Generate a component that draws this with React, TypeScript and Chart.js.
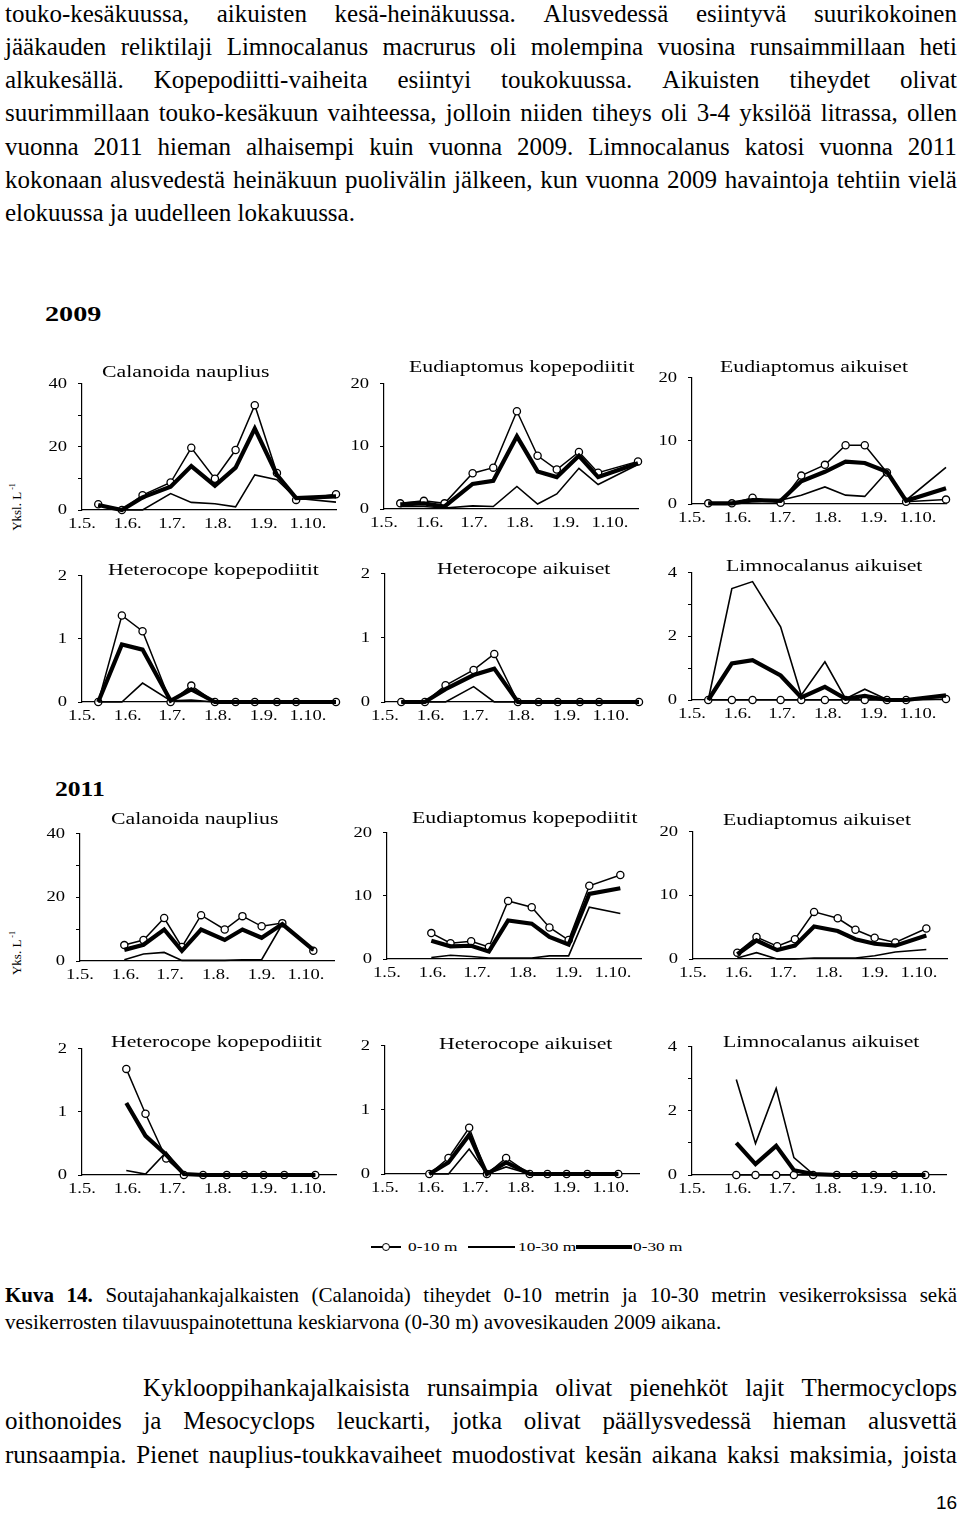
import React, { useEffect, useRef } from "react";
import { Chart, registerables } from "chart.js";

Chart.register(...registerables);

// ---------------- DATA ----------------
const monthTickDays = [0, 31, 61, 92, 123, 153];
const monthTickLabels = ["1.5.", "1.6.", "1.7.", "1.8.", "1.9.", "1.10."];
const seriesNames = ["0-10 m", "10-30 m", "0-30 m"];

// sampling days counted from 1 May
const sampleDays2009 = [11, 27, 41, 60, 74, 90, 104, 117, 132, 145, 172];
const sampleDays2011 = [30, 43, 57, 69, 82, 98, 110, 123, 137, 158];

// 2009
const calNaup2009_0to10 = [1.8, 0, 4.7, 8.7, 19.7, 9.9, 19, 33.2, 11.7, 3.2, 5];
const calNaup2009_10to30 = [1.5, 0, 0, 5.2, 2.4, 2, 1, 11.1, 9.6, 3.7, 2.5];
const calNaup2009_0to30 = [1.6, 0, 4, 7.4, 13.9, 7.7, 13.4, 25.8, 11.1, 3.8, 4.3];

const eudKop2009_0to10 = [0.9, 1.3, 0.9, 5.7, 6.6, 15.6, 8.5, 6.3, 9.1, 5.8, 7.6];
const eudKop2009_10to30 = [0.4, 0.4, 0.15, 0.5, 0.4, 3.6, 0.8, 2.4, 6.5, 3.9, 7.1];
const eudKop2009_0to30 = [0.75, 0.9, 0.4, 4, 4.5, 11.6, 6, 5.1, 8.5, 5.1, 7.3];

const eudAik2009_0to10 = [0.1, 0.1, 1, 0.2, 4.5, 6.2, 9.3, 9.3, 5, 0.35, 0.7];
const eudAik2009_10to30 = [0.1, 0.1, 0.35, 0.6, 1.4, 2.7, 1.4, 1.2, 5.1, 0.6, 5.8];
const eudAik2009_0to30 = [0.1, 0.1, 0.6, 0.5, 3.6, 5.1, 6.7, 6.5, 5.1, 0.5, 2.5];

const hetKop2009_0to10 = [0, 1.37, 1.12, 0, 0.26, 0, 0, 0, 0, 0, 0];
const hetKop2009_10to30 = [0, 0, 0.3, 0.02, 0.03, 0, 0, 0, 0, 0, 0];
const hetKop2009_0to30 = [0, 0.91, 0.83, 0.02, 0.2, 0, 0, 0, 0, 0, 0];

const hetAik2009_0to10 = [0, 0, 0.26, 0.5, 0.75, 0, 0, 0, 0, 0, 0];
const hetAik2009_10to30 = [0, 0, 0, 0.24, 0, 0, 0, 0, 0, 0, 0];
const hetAik2009_0to30 = [0, 0, 0.2, 0.42, 0.52, 0, 0, 0, 0, 0, 0];

const limAik2009_0to10 = [0, 0, 0, 0, 0, 0, 0, 0, 0, 0, 0.03];
const limAik2009_10to30 = [0, 3.5, 3.72, 2.3, 0.15, 1.2, 0.04, 0.34, 0.02, 0, 0.1];
const limAik2009_0to30 = [0, 1.15, 1.25, 0.77, 0.08, 0.41, 0.04, 0.13, 0, 0, 0.15];

// 2011
const calNaup2011_0to10 = [5, 6.6, 13.5, 4.4, 14.4, 9.9, 14.1, 10.9, 11.9, 3.2];
const calNaup2011_10to30 = [0.4, 2.2, 2.7, 0.2, 0.2, 0.2, 0.4, 0.4, 11.6, 3.2];
const calNaup2011_0to30 = [3.5, 5.1, 9.9, 3.2, 9.9, 6.6, 9.9, 7.3, 11.6, 3.5];

const eudKop2011_0to10 = [4.1, 2.5, 2.8, 1.9, 9.2, 8.2, 5, 3, 11.6, 13.3];
const eudKop2011_10to30 = [0.25, 0.6, 0.4, 0.15, 0.15, 0.15, 0.5, 0.5, 8.2, 7.2];
const eudKop2011_0to30 = [2.9, 2, 2.1, 1.2, 6.1, 5.6, 3.5, 2.3, 10.3, 11.2];

const eudAik2011_0to10 = [1, 3.45, 2, 3.1, 7.4, 6.4, 4.6, 3.35, 2.6, 4.8];
const eudAik2011_10to30 = [0.15, 1, 0, 0, 0.15, 0.15, 0.15, 0.5, 1.1, 1.5];
const eudAik2011_0to30 = [0.75, 2.9, 1.4, 2.1, 5.1, 4.4, 3.1, 2.4, 2.1, 3.7];

const hetKop2011_0to10 = [1.68, 0.97, 0.26, 0, 0, 0, 0, 0, 0, 0];
const hetKop2011_10to30 = [0.07, 0.015, 0.36, 0, 0, 0, 0, 0, 0, 0];
const hetKop2011_0to30 = [1.14, 0.62, 0.32, 0.015, 0, 0, 0, 0, 0, 0];

const hetAik2011_0to10 = [0, 0.25, 0.72, 0, 0.25, 0, 0, 0, 0, 0];
const hetAik2011_10to30 = [0, 0, 0.39, 0, 0.11, 0, 0, 0, 0, 0];
const hetAik2011_0to30 = [0, 0.18, 0.61, 0, 0.18, 0, 0, 0, 0, 0];

const limAik2011_0to10 = [0, 0, 0, 0, 0, 0, 0, 0, 0, 0];
const limAik2011_10to30 = [2.98, 0.98, 2.7, 0.54, 0.03, 0, 0, 0, 0, 0];
const limAik2011_0to30 = [1.0, 0.34, 0.91, 0.15, 0.03, 0, 0, 0, 0, 0];

// ---------------- TEXT ----------------
const topLines = [
  "touko-kesäkuussa, aikuisten kesä-heinäkuussa. Alusvedessä esiintyvä suurikokoinen",
  "jääkauden reliktilaji Limnocalanus macrurus oli molempina vuosina runsaimmillaan heti",
  "alkukesällä. Kopepodiitti-vaiheita esiintyi toukokuussa. Aikuisten tiheydet olivat",
  "suurimmillaan touko-kesäkuun vaihteessa, jolloin niiden tiheys oli 3-4 yksilöä litrassa, ollen",
  "vuonna 2011 hieman alhaisempi kuin vuonna 2009. Limnocalanus katosi vuonna 2011",
  "kokonaan alusvedestä heinäkuun puolivälin jälkeen, kun vuonna 2009 havaintoja tehtiin vielä",
  "elokuussa ja uudelleen lokakuussa.",
];
const captionLine1 = "Soutajahankajalkaisten (Calanoida) tiheydet 0-10 metrin ja 10-30 metrin vesikerroksissa sekä";
const captionLine2 = "vesikerrosten tilavuuspainotettuna keskiarvona (0-30 m) avovesikauden 2009 aikana.";
const bottomLines = [
  "Kyklooppihankajalkaisista runsaimpia olivat pienehköt lajit Thermocyclops",
  "oithonoides ja Mesocyclops leuckarti, jotka olivat päällysvedessä hieman alusvettä",
  "runsaampia. Pienet nauplius-toukkavaiheet muodostivat kesän aikana kaksi maksimia, joista",
];

// ---------------- LAYOUT ----------------
const SERIF = "'Liberation Serif', 'Times New Roman', serif";
const SANS = "'Liberation Sans', Arial, sans-serif";
const FIG_SX = 1.28; // horizontal stretch of figure lettering
const PL = 50;
const PT = 12;
const PR = 14;
const PB = 30;
const PLOT_W = 254;
const X_MAX = 172;

type Panel = {
  title: string;
  days: number[];
  c: number[];
  t: number[];
  k: number[];
  yMax: number;
  step: number;
  labelEvery: number;
  left: number;
  top: number;
  bottom: number;
  tx: number;
  tb: number;
};

const panels: Panel[] = [
  { title: "Calanoida nauplius", days: sampleDays2009, c: calNaup2009_0to10, t: calNaup2009_10to30, k: calNaup2009_0to30, yMax: 40, step: 10, labelEvery: 20, left: 82, top: 376, bottom: 510, tx: 102, tb: 378 },
  { title: "Eudiaptomus kopepodiitit", days: sampleDays2009, c: eudKop2009_0to10, t: eudKop2009_10to30, k: eudKop2009_0to30, yMax: 20, step: 10, labelEvery: 10, left: 384, top: 376, bottom: 509, tx: 409, tb: 373 },
  { title: "Eudiaptomus aikuiset", days: sampleDays2009, c: eudAik2009_0to10, t: eudAik2009_10to30, k: eudAik2009_0to30, yMax: 20, step: 10, labelEvery: 10, left: 692, top: 370, bottom: 504, tx: 720, tb: 373 },
  { title: "Heterocope kopepodiitit", days: sampleDays2009, c: hetKop2009_0to10, t: hetKop2009_10to30, k: hetKop2009_0to30, yMax: 2, step: 1, labelEvery: 1, left: 82, top: 568, bottom: 702, tx: 108, tb: 576 },
  { title: "Heterocope aikuiset", days: sampleDays2009, c: hetAik2009_0to10, t: hetAik2009_10to30, k: hetAik2009_0to30, yMax: 2, step: 1, labelEvery: 1, left: 385, top: 566, bottom: 702, tx: 437, tb: 575 },
  { title: "Limnocalanus aikuiset", days: sampleDays2009, c: limAik2009_0to10, t: limAik2009_10to30, k: limAik2009_0to30, yMax: 4, step: 1, labelEvery: 2, left: 692, top: 565, bottom: 700, tx: 726, tb: 572 },
  { title: "Calanoida nauplius", days: sampleDays2011, c: calNaup2011_0to10, t: calNaup2011_10to30, k: calNaup2011_0to30, yMax: 40, step: 10, labelEvery: 20, left: 80, top: 826, bottom: 961, tx: 111, tb: 825 },
  { title: "Eudiaptomus kopepodiitit", days: sampleDays2011, c: eudKop2011_0to10, t: eudKop2011_10to30, k: eudKop2011_0to30, yMax: 20, step: 10, labelEvery: 10, left: 387, top: 825, bottom: 959, tx: 412, tb: 824 },
  { title: "Eudiaptomus aikuiset", days: sampleDays2011, c: eudAik2011_0to10, t: eudAik2011_10to30, k: eudAik2011_0to30, yMax: 20, step: 10, labelEvery: 10, left: 693, top: 824, bottom: 959, tx: 723, tb: 826 },
  { title: "Heterocope kopepodiitit", days: sampleDays2011, c: hetKop2011_0to10, t: hetKop2011_10to30, k: hetKop2011_0to30, yMax: 2, step: 1, labelEvery: 1, left: 82, top: 1041, bottom: 1175, tx: 111, tb: 1048 },
  { title: "Heterocope aikuiset", days: sampleDays2011, c: hetAik2011_0to10, t: hetAik2011_10to30, k: hetAik2011_0to30, yMax: 2, step: 1, labelEvery: 1, left: 385, top: 1038, bottom: 1174, tx: 439, tb: 1050 },
  { title: "Limnocalanus aikuiset", days: sampleDays2011, c: limAik2011_0to10, t: limAik2011_10to30, k: limAik2011_0to30, yMax: 4, step: 1, labelEvery: 2, left: 692, top: 1039, bottom: 1175, tx: 723, tb: 1048 },
];

function stretchText(ctx: CanvasRenderingContext2D, sx: number) {
  const anyCtx = ctx as any;
  if (anyCtx.__stretched) return;
  anyCtx.__stretched = true;
  const orig = ctx.fillText.bind(ctx);
  anyCtx.fillText = (text: string, x: number, y: number, maxWidth?: number) => {
    ctx.save();
    ctx.translate(x, y);
    ctx.scale(sx, 1);
    if (maxWidth === undefined || maxWidth === null) orig(text, 0, 0);
    else orig(text, 0, 0, maxWidth / sx);
    ctx.restore();
  };
}

function MiniChart({ p }: { p: Panel }) {
  const ref = useRef<HTMLCanvasElement>(null);
  const W = PL + PLOT_W + PR;
  const H = PT + (p.bottom - p.top) + PB;
  useEffect(() => {
    const canvas = ref.current!;
    const ctx = canvas.getContext("2d")!;
    stretchText(ctx, FIG_SX);
    const pts = (vals: number[]) => p.days.map((d, i) => ({ x: d, y: vals[i] }));
    const tickFont = { family: SERIF, size: 14.5 };
    const chart = new Chart(canvas, {
      type: "line",
      data: {
        datasets: [
          {
            label: seriesNames[0],
            data: pts(p.c),
            borderColor: "#000",
            borderWidth: 1.5,
            pointRadius: 3.6,
            pointBorderWidth: 1.3,
            pointBackgroundColor: "#fff",
            pointBorderColor: "#000",
            tension: 0,
            clip: false,
            order: 3,
          },
          {
            label: seriesNames[1],
            data: pts(p.t),
            borderColor: "#000",
            borderWidth: 1.6,
            pointRadius: 0,
            tension: 0,
            clip: false,
            order: 2,
          },
          {
            label: seriesNames[2],
            data: pts(p.k),
            borderColor: "#000",
            borderWidth: 4.2,
            pointRadius: 0,
            tension: 0,
            clip: false,
            order: 1,
          },
        ],
      },
      options: {
        animation: false,
        responsive: false,
        events: [],
        layout: { padding: { left: 0, top: PT, right: PR, bottom: 0 } },
        plugins: {
          legend: { display: false },
          tooltip: { enabled: false },
          title: { display: false },
        },
        scales: {
          x: {
            type: "linear",
            min: 0,
            max: X_MAX,
            grid: { display: false, drawTicks: false },
            border: { display: true, color: "#000", width: 1.2 },
            afterBuildTicks: (s: any) => {
              s.ticks = monthTickDays.map((v) => ({ value: v }));
            },
            afterFit: (s: any) => {
              s.height = PB;
            },
            ticks: {
              autoSkip: false,
              maxRotation: 0,
              minRotation: 0,
              padding: 5,
              color: "#000",
              font: tickFont,
              callback: (v: any) => {
                const i = monthTickDays.indexOf(Number(v));
                return i >= 0 ? monthTickLabels[i] : "";
              },
            },
          },
          y: {
            min: 0,
            max: p.yMax,
            grid: { display: true, drawOnChartArea: false, drawTicks: true, tickLength: 4, color: "#000", lineWidth: 1 },
            border: { display: true, color: "#000", width: 1.2 },
            afterFit: (s: any) => {
              s.width = PL;
            },
            ticks: {
              stepSize: p.step,
              padding: 11,
              color: "#000",
              font: tickFont,
              callback: (v: any) => (Number(v) % p.labelEvery === 0 ? String(v) : ""),
            },
          },
        },
      } as any,
    });
    return () => chart.destroy();
  }, []);
  return (
    <canvas
      ref={ref}
      width={W}
      height={H}
      style={{ position: "absolute", left: p.left - PL, top: p.top - PT, width: W, height: H }}
    />
  );
}

type Word = { t: string; b?: boolean };

function TextLine({
  x,
  baseline,
  width,
  size,
  words,
  justify,
  family = SERIF,
}: {
  x: number;
  baseline: number;
  width: number;
  size: number;
  words: Word[];
  justify: boolean;
  family?: string;
}) {
  const lh = size * 1.2;
  const style: React.CSSProperties = {
    position: "absolute",
    left: x,
    top: baseline - 0.9375 * size,
    width,
    height: lh,
    lineHeight: `${lh}px`,
    fontSize: size,
    fontFamily: family,
    color: "#000",
    whiteSpace: "nowrap",
  };
  if (justify) {
    return (
      <div style={{ ...style, display: "flex", justifyContent: "space-between" }}>
        {words.map((w, i) => (
          <span key={i} style={{ fontWeight: w.b ? "bold" : "normal" }}>
            {w.t}
          </span>
        ))}
      </div>
    );
  }
  return (
    <div style={style}>
      {words.map((w, i) => (
        <span key={i} style={{ fontWeight: w.b ? "bold" : "normal" }}>
          {(i > 0 ? " " : "") + w.t}
        </span>
      ))}
    </div>
  );
}

const toWords = (s: string): Word[] => s.split(" ").map((t) => ({ t }));

function FigText({
  x,
  baseline,
  size,
  children,
  bold,
}: {
  x: number;
  baseline: number;
  size: number;
  children: React.ReactNode;
  bold?: boolean;
}) {
  return (
    <div
      style={{
        position: "absolute",
        left: x,
        top: baseline - 0.9375 * size,
        fontSize: size,
        lineHeight: `${size * 1.2}px`,
        fontFamily: SERIF,
        fontWeight: bold ? "bold" : "normal",
        whiteSpace: "nowrap",
        transform: `scaleX(${FIG_SX})`,
        transformOrigin: "left top",
        color: "#000",
      }}
    >
      {children}
    </div>
  );
}

function UnitLabel({ cx, cy, text }: { cx: number; cy: number; text: string }) {
  return (
    <div
      style={{
        position: "absolute",
        left: cx,
        top: cy,
        transform: "translate(-50%, -50%) rotate(-90deg)",
        fontSize: 13,
        lineHeight: "14px",
        fontFamily: SERIF,
        whiteSpace: "nowrap",
        color: "#000",
      }}
    >
      {text}
      <sup style={{ fontSize: 8, verticalAlign: "6px", marginLeft: 2 }}>-1</sup>
    </div>
  );
}

export default function App() {
  const topBase = 22;
  const topStep = 33.25;
  return (
    <div
      style={{
        position: "absolute",
        left: 0,
        top: 0,
        width: 960,
        height: 1517,
        overflow: "hidden",
        background: "#fff",
        fontFamily: SERIF,
      }}
    >
      {topLines.map((l, i) => (
        <TextLine
          key={"t" + i}
          x={5}
          baseline={topBase + topStep * i}
          width={952}
          size={25}
          words={toWords(l)}
          justify={i < topLines.length - 1}
        />
      ))}

      <FigText x={45} baseline={322} size={22} bold>
        2009
      </FigText>
      <FigText x={55} baseline={796} size={20} bold>
        2011
      </FigText>
      <UnitLabel cx={15} cy={507} text="Yksl. L" />
      <UnitLabel cx={15} cy={953} text="Yks. L" />

      {panels.map((p, i) => (
        <MiniChart key={"c" + i} p={p} />
      ))}
      {panels.map((p, i) => (
        <FigText key={"ti" + i} x={p.tx} baseline={p.tb} size={17}>
          {p.title}
        </FigText>
      ))}

      {/* legend */}
      <div style={{ position: "absolute", left: 371, top: 1246.3, width: 30, height: 1.5, background: "#000" }} />
      <div
        style={{
          position: "absolute",
          left: 382,
          top: 1243,
          width: 8,
          height: 8,
          boxSizing: "border-box",
          border: "1.4px solid #000",
          borderRadius: "50%",
          background: "#fff",
        }}
      />
      <FigText x={408} baseline={1252} size={13.5}>
        {seriesNames[0]}
      </FigText>
      <div style={{ position: "absolute", left: 468, top: 1246.3, width: 47, height: 1.5, background: "#000" }} />
      <FigText x={518} baseline={1252} size={13.5}>
        {seriesNames[1]}
      </FigText>
      <div style={{ position: "absolute", left: 576, top: 1245, width: 56, height: 4, background: "#000" }} />
      <FigText x={633} baseline={1252} size={13.5}>
        {seriesNames[2]}
      </FigText>

      {/* caption */}
      <TextLine
        x={5}
        baseline={1303}
        width={952}
        size={21}
        words={[{ t: "Kuva", b: true }, { t: "14.", b: true }, ...toWords(captionLine1)]}
        justify
      />
      <TextLine x={5} baseline={1330} width={952} size={21} words={toWords(captionLine2)} justify={false} />

      {bottomLines.map((l, i) => (
        <TextLine
          key={"b" + i}
          x={i === 0 ? 143 : 5}
          baseline={1396 + 33.5 * i}
          width={i === 0 ? 814 : 952}
          size={25}
          words={toWords(l)}
          justify
        />
      ))}

      <div
        style={{
          position: "absolute",
          left: 936,
          top: 1510 - 0.9375 * 19,
          fontSize: 19,
          lineHeight: `${19 * 1.2}px`,
          fontFamily: SANS,
          color: "#000",
        }}
      >
        16
      </div>
    </div>
  );
}
